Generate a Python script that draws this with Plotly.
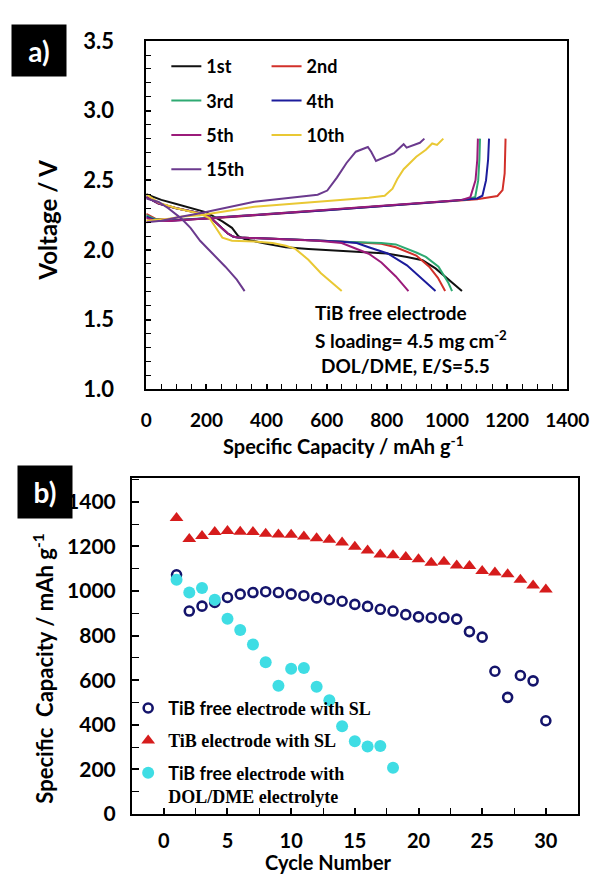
import plotly.graph_objects as go

# ---------------- Panel a: charge / discharge profiles ----------------
cycle_names = ["1st", "2nd", "3rd", "4th", "5th", "10th", "15th"]
cycle_colors = ["#111111", "#d2302a", "#2eaa72", "#1c1c9c", "#9b1b7a", "#e9c834", "#6b3a8e"]

dis_cap_1 = [0, 50, 100, 150, 200, 253, 285, 306, 327, 400, 464, 539, 634, 729, 800, 867, 919, 962, 1005, 1030, 1050]
dis_v_1 = [2.40, 2.36, 2.33, 2.30, 2.27, 2.206, 2.159, 2.10, 2.078, 2.045, 2.02, 2.008, 1.997, 1.985, 1.975, 1.95, 1.926, 1.868, 1.787, 1.74, 1.705]

dis_cap_2 = [0, 41, 100, 179, 210, 240, 270, 290, 306, 400, 464, 570, 676, 782, 830, 867, 898, 941, 970, 994]
dis_v_2 = [2.38, 2.334, 2.30, 2.264, 2.24, 2.18, 2.12, 2.095, 2.09, 2.082, 2.078, 2.068, 2.058, 2.045, 2.02, 1.99, 1.96, 1.88, 1.80, 1.705]
chg_cap_2 = [0, 30, 80, 200, 400, 600, 800, 1000, 1100, 1168, 1185, 1192, 1195]
chg_v_2 = [2.26, 2.225, 2.215, 2.225, 2.255, 2.285, 2.315, 2.35, 2.365, 2.388, 2.43, 2.55, 2.80]

dis_cap_3 = [0, 41, 100, 179, 210, 240, 270, 290, 306, 400, 464, 570, 676, 782, 830, 867, 900, 930, 972, 1005, 1017]
dis_v_3 = [2.38, 2.334, 2.30, 2.264, 2.24, 2.18, 2.12, 2.095, 2.09, 2.082, 2.078, 2.068, 2.058, 2.05, 2.04, 2.01, 1.98, 1.95, 1.88, 1.763, 1.705]
chg_cap_3 = [0, 30, 80, 200, 400, 600, 800, 1000, 1060, 1094, 1104, 1108, 1110]
chg_v_3 = [2.25, 2.22, 2.212, 2.228, 2.258, 2.288, 2.318, 2.35, 2.36, 2.38, 2.50, 2.65, 2.80]

dis_cap_4 = [0, 41, 100, 179, 210, 240, 270, 290, 306, 400, 464, 570, 650, 700, 740, 803, 867, 919, 962]
dis_v_4 = [2.38, 2.334, 2.30, 2.264, 2.24, 2.18, 2.12, 2.095, 2.09, 2.082, 2.078, 2.068, 2.06, 2.05, 2.02, 1.975, 1.89, 1.79, 1.705]
chg_cap_4 = [0, 30, 80, 200, 400, 600, 800, 1000, 1100, 1118, 1130, 1137, 1140]
chg_v_4 = [2.24, 2.215, 2.21, 2.226, 2.256, 2.286, 2.316, 2.35, 2.37, 2.39, 2.50, 2.65, 2.80]

dis_cap_5 = [0, 41, 100, 179, 210, 240, 270, 290, 306, 400, 464, 570, 650, 697, 740, 782, 830, 872]
dis_v_5 = [2.38, 2.334, 2.30, 2.264, 2.24, 2.18, 2.12, 2.095, 2.09, 2.082, 2.078, 2.066, 2.05, 2.01, 1.973, 1.91, 1.81, 1.705]
chg_cap_5 = [0, 30, 80, 200, 400, 600, 800, 1000, 1050, 1078, 1095, 1101, 1103]
chg_v_5 = [2.23, 2.21, 2.208, 2.227, 2.258, 2.29, 2.32, 2.352, 2.36, 2.38, 2.50, 2.65, 2.80]

dis_cap_10 = [0, 41, 100, 179, 210, 253, 285, 359, 420, 464, 496, 539, 581, 618, 650]
dis_v_10 = [2.40, 2.34, 2.30, 2.26, 2.23, 2.089, 2.066, 2.061, 2.05, 2.031, 2.008, 1.93, 1.833, 1.763, 1.705]
chg_cap_10 = [0, 60, 120, 179, 359, 570, 740, 793, 819, 835, 856, 877, 898, 930, 951, 967, 988]
chg_v_10 = [2.21, 2.22, 2.24, 2.25, 2.31, 2.345, 2.375, 2.39, 2.44, 2.51, 2.58, 2.625, 2.67, 2.72, 2.765, 2.755, 2.80]

dis_cap_15 = [0, 41, 73, 115, 147, 179, 221, 263, 301, 327]
dis_v_15 = [2.37, 2.345, 2.30, 2.229, 2.159, 2.066, 1.973, 1.88, 1.787, 1.705]
chg_cap_15 = [0, 50, 120, 179, 359, 464, 570, 602, 634, 666, 697, 737, 748, 764, 793, 824, 846, 856, 866, 894, 910, 925]
chg_v_15 = [2.20, 2.21, 2.24, 2.264, 2.346, 2.374, 2.397, 2.427, 2.52, 2.625, 2.706, 2.74, 2.706, 2.64, 2.665, 2.695, 2.74, 2.76, 2.735, 2.76, 2.77, 2.80]

profiles = [
    (dis_cap_1, dis_v_1, [], []),
    (dis_cap_2, dis_v_2, chg_cap_2, chg_v_2),
    (dis_cap_3, dis_v_3, chg_cap_3, chg_v_3),
    (dis_cap_4, dis_v_4, chg_cap_4, chg_v_4),
    (dis_cap_5, dis_v_5, chg_cap_5, chg_v_5),
    (dis_cap_10, dis_v_10, chg_cap_10, chg_v_10),
    (dis_cap_15, dis_v_15, chg_cap_15, chg_v_15),
]
legend_of_cycle = ["legend", "legend2", "legend", "legend2", "legend", "legend2", "legend"]

# ---------------- Panel b: cycling performance ----------------
cycles = list(range(1, 31))
cap_free_sl = [1073, 910, 932, 949, 971, 986, 993, 997, 993, 986, 979, 969, 961, 954, 940,
               931, 918, 910, 894, 884, 880, 881, 874, 818, 793, 640, 523, 621, 597, 418]
cap_tib_sl = [1327, 1233, 1247, 1265, 1269, 1266, 1265, 1257, 1254, 1252, 1244, 1237, 1230, 1218, 1199,
              1182, 1164, 1160, 1153, 1143, 1127, 1131, 1114, 1112, 1090, 1083, 1075, 1051, 1025, 1007]
cycles_dol = list(range(1, 19))
cap_free_dol = [1051, 993, 1014, 961, 876, 825, 760, 680, 575, 651, 655, 571, 510, 393, 326, 302, 305, 207]

W, H = 614, 888


def fx(p):
    return p / W


def fy(p):
    return 1 - p / H


SANS = "Lato"
SERIF = "Liberation Serif"

fig = go.Figure()

for name, color, (dc, dv, cc, cv), lg in zip(cycle_names, cycle_colors, profiles, legend_of_cycle):
    xs = list(dc) + ([None] + list(cc) if cc else [])
    ys = list(dv) + ([None] + list(cv) if cv else [])
    fig.add_trace(go.Scatter(
        x=xs, y=ys, mode="lines", name=name, legend=lg, legendgroup=name,
        line=dict(color=color, width=2), connectgaps=False,
        xaxis="x", yaxis="y",
    ))

fig.add_trace(go.Scatter(
    x=cycles, y=cap_free_sl, mode="markers", legend="legend3", legendgroup="b1",
    name='<span style="font-family:Lato">TiB free</span> electrode with SL',
    marker=dict(symbol="circle-open", size=9, color="#14146b", line=dict(width=2.6, color="#14146b")),
    xaxis="x2", yaxis="y2",
))
fig.add_trace(go.Scatter(
    x=cycles, y=cap_tib_sl, mode="markers", legend="legend3", legendgroup="b2",
    name="TiB electrode with SL",
    marker=dict(symbol="triangle-up", size=12, color="#d61c1c"),
    xaxis="x2", yaxis="y2",
))
fig.add_trace(go.Scatter(
    x=cycles_dol, y=cap_free_dol, mode="markers", legend="legend3", legendgroup="b3",
    name='<span style="font-family:Lato">TiB free</span> electrode with<br>DOL/DME electrolyte',
    marker=dict(symbol="circle", size=12, color="#3fdde4"),
    xaxis="x2", yaxis="y2",
))

axis_common = dict(
    showline=True, linecolor="black", linewidth=2, mirror=True,
    ticks="inside", tickcolor="black", tickwidth=1.5,
    showgrid=False, zeroline=False,
)

legend_common = dict(
    bgcolor="rgba(0,0,0,0)", borderwidth=0, orientation="v",
    traceorder="grouped", xanchor="left", yanchor="top",
)

fig.update_layout(
    width=W, height=H, margin=dict(l=0, r=0, t=0, b=0),
    paper_bgcolor="white", plot_bgcolor="white",
    font=dict(family=SANS, color="black", weight="bold"),
    showlegend=True,
    xaxis=dict(
        **axis_common, domain=[fx(147), fx(588)], range=[0, 1400], dtick=200, tick0=0,
        ticklen=5, anchor="y", tickfont=dict(size=19, family=SANS, weight="bold"),
        ticklabelstandoff=13,
        minor=dict(ticks="inside", ticklen=5, dtick=50, tick0=0, tickcolor="black", tickwidth=1.2),
    ),
    yaxis=dict(
        **axis_common, domain=[fy(387), fy(28)], range=[1.0, 3.5], dtick=0.5, tick0=1.0,
        tickformat=".1f", ticklen=5, anchor="x", tickfont=dict(size=22, family=SANS, weight="bold"),
        ticklabelstandoff=26,
        minor=dict(ticks="inside", ticklen=5, dtick=0.1, tick0=1.0, tickcolor="black", tickwidth=1.2),
    ),
    xaxis2=dict(
        **axis_common, domain=[fx(132), fx(599)], range=[-2.5, 32.5], dtick=5, tick0=0,
        ticklen=6, anchor="y2", tickfont=dict(size=20, family=SANS, weight="bold"),
        ticklabelstandoff=8,
        minor=dict(ticks="inside", ticklen=6, dtick=2.5, tick0=0, tickcolor="black", tickwidth=1.2),
    ),
    yaxis2=dict(
        **axis_common, domain=[fy(825), fy(479)], range=[0, 1505], dtick=200, tick0=0,
        ticklen=7, anchor="x2", tickfont=dict(size=21, family=SANS, weight="bold"),
        ticklabelstandoff=10,
        minor=dict(ticks="inside", ticklen=7, dtick=100, tick0=0, tickcolor="black", tickwidth=1.2),
    ),
    legend=dict(**legend_common, x=fx(168), y=fy(35), tracegroupgap=8,
                font=dict(size=18, family=SANS, weight="bold", color="black")),
    legend2=dict(**legend_common, x=fx(273), y=fy(35), tracegroupgap=8,
                 font=dict(size=18, family=SANS, weight="bold", color="black")),
    legend3=dict(**legend_common, x=fx(128), y=fy(697), valign="top", tracegroupgap=6,
                 font=dict(size=18, family=SERIF, weight="bold", color="black")),
)

annotations = [
    # panel tags
    dict(text="a)", x=fx(35), y=fy(38), width=52, height=49, bgcolor="black",
         font=dict(size=28, color="white", family=SANS, weight="bold")),
    dict(text="b)", x=fx(41), y=fy(493), width=52, height=50, bgcolor="black",
         font=dict(size=28, color="white", family=SANS, weight="bold")),
    # axis titles
    dict(text="Voltage / V", x=fx(44), y=fy(212), textangle=-90,
         font=dict(size=24, family=SANS, weight="bold")),
    dict(text="Specific Capacity / mAh g<sup>-1</sup>", x=fx(354), y=fy(445),
         font=dict(size=20, family=SANS, weight="bold")),
    dict(text="Specific  Capacity / mAh g<sup>-1</sup>", x=fx(39), y=fy(675), textangle=-90,
         font=dict(size=22, family=SANS, weight="bold")),
    dict(text="Cycle Number", x=fx(338), y=fy(875),
         font=dict(size=20, family=SANS, weight="bold")),
    # cell description
    dict(text="TiB free electrode", x=fx(322), y=fy(308), xanchor="left",
         font=dict(size=19, family=SANS, weight="bold")),
    dict(text="S loading= 4.5 mg cm<sup>-2</sup>", x=fx(322), y=fy(336), xanchor="left",
         font=dict(size=19, family=SANS, weight="bold")),
    dict(text="DOL/DME, E/S=5.5", x=fx(328), y=fy(363), xanchor="left",
         font=dict(size=19, family=SANS, weight="bold")),
]
for a in annotations:
    a.setdefault("xref", "paper")
    a.setdefault("yref", "paper")
    a.setdefault("showarrow", False)
    a.setdefault("xanchor", "center")
    a.setdefault("yanchor", "middle")
fig.update_layout(annotations=annotations)

fig.write_html("out.html")
